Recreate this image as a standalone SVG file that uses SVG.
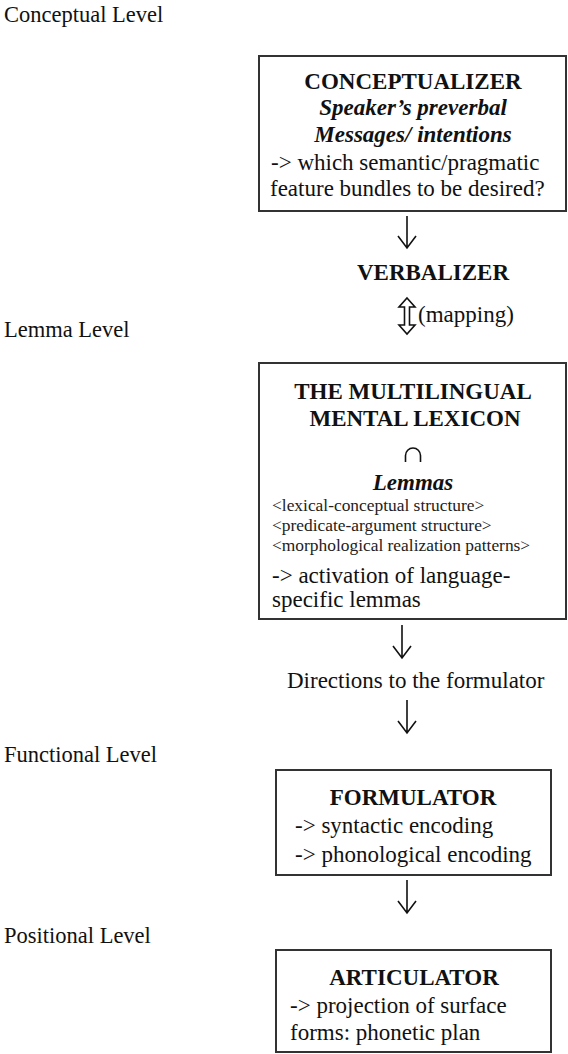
<svg xmlns="http://www.w3.org/2000/svg" width="568" height="1054" viewBox="0 0 568 1054">
<defs>
<style>
text{font-family:"Liberation Serif","Times New Roman",serif;fill:#111;}
.lvl{font-size:22.5px;}
.body{font-size:23px;}
.title{font-size:23px;font-weight:bold;}
.bi{font-size:23px;font-weight:bold;font-style:italic;}
.small{font-size:17.4px;fill:#222;}
.mid{text-anchor:middle;}
.box{fill:#fff;stroke:#333;stroke-width:2;}
.arr{fill:none;stroke:#111;stroke-width:1.6;}
</style>
</defs>
<rect width="568" height="1054" fill="#fff"/>
<g id="levels">
<text class="lvl" x="4" y="22">Conceptual Level</text>
<text class="lvl" x="4" y="337">Lemma Level</text>
<text class="lvl" x="4" y="762">Functional Level</text>
<text class="lvl" x="4" y="943">Positional Level</text>
</g>
<g id="conceptualizer">
<rect class="box" x="259" y="56" width="307" height="155"/>
<text class="title mid" x="413" y="89">CONCEPTUALIZER</text>
<text class="bi mid" x="413" y="115">Speaker’s preverbal</text>
<text class="bi mid" x="413" y="142">Messages/ intentions</text>
<text class="body" x="271" y="170">-&gt; which semantic/pragmatic</text>
<text class="body" x="270" y="196">feature bundles to be desired?</text>
</g>
<g id="verbalizer">
<text class="title mid" x="433" y="280">VERBALIZER</text>
<text class="body" x="418" y="322">(mapping)</text>
</g>
<g id="lexicon">
<rect class="box" x="259" y="363" width="307" height="256"/>
<text class="title mid" x="413" y="399">THE MULTILINGUAL</text>
<text class="title mid" x="415" y="426">MENTAL LEXICON</text>
<path class="arr" d="M405.5,462 V455.5 A7.5,7.5 0 0 1 420.5,455.5 V462"/>
<text class="bi mid" x="413" y="490">Lemmas</text>
<text class="small" x="272" y="511">&lt;lexical-conceptual structure&gt;</text>
<text class="small" x="272" y="531">&lt;predicate-argument structure&gt;</text>
<text class="small" x="272" y="551">&lt;morphological realization patterns&gt;</text>
<text class="body" x="272" y="583">-&gt; activation of language-</text>
<text class="body" x="272" y="607">specific lemmas</text>
</g>
<g id="directions">
<text class="body" x="287" y="688">Directions to the formulator</text>
</g>
<g id="formulator">
<rect class="box" x="276" y="770" width="275" height="105"/>
<text class="title mid" x="413" y="805">FORMULATOR</text>
<text class="body" x="295" y="833">-&gt; syntactic encoding</text>
<text class="body" x="295" y="862">-&gt; phonological encoding</text>
</g>
<g id="articulator">
<rect class="box" x="276" y="950" width="275" height="102"/>
<text class="title mid" x="414" y="985">ARTICULATOR</text>
<text class="body" x="290" y="1013">-&gt; projection of surface</text>
<text class="body" x="290" y="1040">forms: phonetic plan</text>
</g>
<g id="connectors">
<path class="arr" d="M407,216 V248 M398,236 L407,248 L416,236"/>
<path class="arr" d="M407,298 L415,307 L409.5,307 L409.5,325 L415,325 L407,334 L399,325 L404.5,325 L404.5,307 L399,307 Z"/>
<path class="arr" d="M402,625 V658 M393,646 L402,658 L411,646"/>
<path class="arr" d="M407,700 V733 M398,721 L407,733 L416,721"/>
<path class="arr" d="M407,880 V913 M398,901 L407,913 L416,901"/>
</g>
</svg>
